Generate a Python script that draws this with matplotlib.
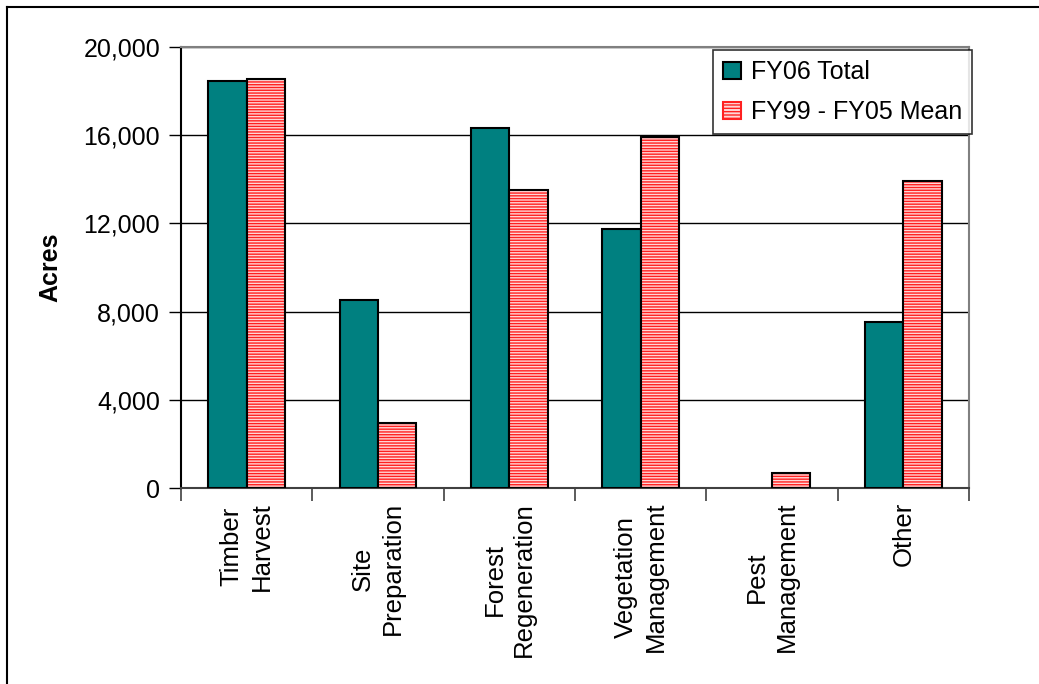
import matplotlib
matplotlib.use('Agg')
import matplotlib.pyplot as plt
import numpy as np
from matplotlib.lines import Line2D
from matplotlib.patches import Patch

categories = ['Timber\nHarvest', 'Site\nPreparation', 'Forest\nRegeneration',
              'Vegetation\nManagement', 'Pest\nManagement', 'Other']
fy06_total = [18470, 8510, 16340, 11760, 0, 7550]
fy99_05_mean = [18540, 2930, 13510, 15920, 670, 13940]

plt.rcParams['font.family'] = ['Liberation Sans', 'DejaVu Sans']
plt.rcParams['hatch.linewidth'] = 1.0

fig = plt.figure(figsize=(10.39, 6.84), dpi=100)
ax = fig.add_axes([181 / 1039, 1 - 488 / 684, (969 - 181) / 1039, (488 - 47) / 684])

x = np.arange(len(categories))
w = 0.293

# teal bars (no outline where the value is zero, like the original)
teal_lw = [1.5 if v > 0 else 0 for v in fy06_total]
ax.bar(x - w / 2, fy06_total, w, color='#008080', edgecolor='black', linewidth=teal_lw, zorder=3)
# red striped bars: hatch first, then black outline on top
ax.bar(x + w / 2, fy99_05_mean, w, color='#ffd6d6', edgecolor='#ff2020', hatch='------',
       linewidth=0, zorder=3)
ax.bar(x + w / 2, fy99_05_mean, w, fill=False, edgecolor='black', linewidth=1.5, zorder=4)

ax.set_xlim(-0.5, len(categories) - 0.5)
ax.set_ylim(0, 20000)
ax.set_yticks(range(0, 20001, 4000))
ax.set_yticklabels([f'{v:,}' for v in range(0, 20001, 4000)], fontsize=18)
ax.tick_params(axis='y', length=9, width=1, pad=6)
ax.yaxis.grid(True, color='black', linewidth=1)
ax.set_axisbelow(True)

ax.set_xticks(x)
ax.set_xticklabels(categories, rotation=90, fontsize=18.5, multialignment='center',
                   linespacing=1.3)
ax.tick_params(axis='x', which='major', length=0, pad=10)
ax.set_xticks(np.arange(-0.5, len(categories)), minor=True)
ax.tick_params(axis='x', which='minor', length=9, width=1.2, color='#404040')

ax.spines['top'].set_color('#808080')
ax.spines['right'].set_color('#808080')
ax.spines['left'].set_color('black')
ax.spines['bottom'].set_color('#404040')
for s in ax.spines.values():
    s.set_linewidth(1.5)

ax.set_ylabel('Acres', fontsize=18, fontweight='bold')
ax.yaxis.set_label_coords((62 - 181) / 788, 0.5)

handles = [Patch(facecolor='#008080', edgecolor='black', linewidth=1.5),
           Patch(facecolor='#ffd6d6', edgecolor='#ff2020', hatch='-----', linewidth=1.5)]
leg = fig.legend(handles, ['FY06 Total', 'FY99 - FY05 Mean'], loc='upper right',
                 bbox_to_anchor=(972 / 1039, 1 - 50 / 684), fontsize=18, frameon=True,
                 fancybox=False, edgecolor='black', handlelength=0.7, handleheight=0.7,
                 handletextpad=0.4, labelspacing=0.65, borderpad=0.4, borderaxespad=0)
leg.get_frame().set_linewidth(1.2)

# outer border of the chart area (left and top)
fig.add_artist(Line2D([7 / 1039, 7 / 1039], [0, 1 - 7 / 684], transform=fig.transFigure,
                      color='black', linewidth=1.5))
fig.add_artist(Line2D([7 / 1039, 1], [1 - 7 / 684, 1 - 7 / 684], transform=fig.transFigure,
                      color='black', linewidth=1.5))

fig.savefig('out.png', dpi=100)
